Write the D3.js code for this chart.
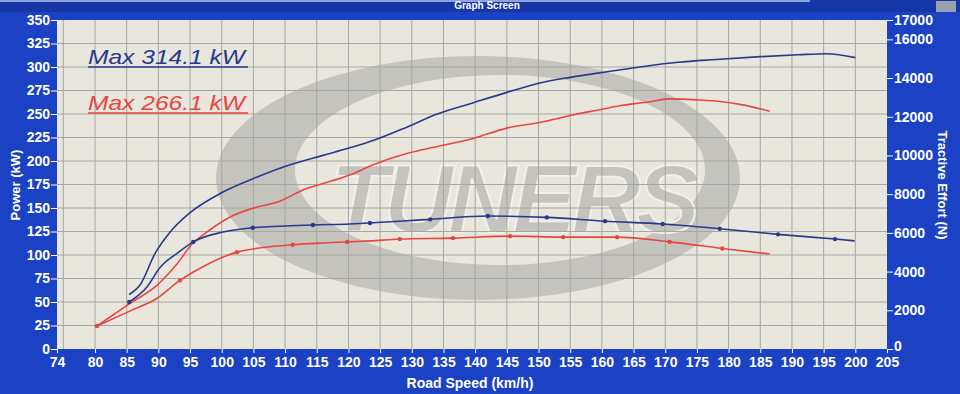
<!DOCTYPE html>
<html>
<head>
<meta charset="utf-8">
<script src="https://cdn.jsdelivr.net/npm/d3@7"></script>
<style>
  body { margin: 0; background: #1b41c4; }
  svg { display: block; font-family: "Liberation Sans", Arial, sans-serif; }
</style>
</head>
<body>
<div id="plot"></div>
<script>
// tick labels
var speedTicks = [74, 80, 85, 90, 95, 100, 105, 110, 115, 120, 125, 130, 135, 140, 145, 150, 155, 160, 165, 170, 175, 180, 185, 190, 195, 200, 205];
var speedGrid = [75, 80, 85, 90, 95, 100, 105, 110, 115, 120, 125, 130, 135, 140, 145, 150, 155, 160, 165, 170, 175, 180, 185, 190, 195, 200];
var powerTicks = [0, 25, 50, 75, 100, 125, 150, 175, 200, 225, 250, 275, 300, 325, 350];
var effortTicks = [0, 2000, 4000, 6000, 8000, 10000, 12000, 14000, 16000, 17000];

// power curves [speed km/h, kW]
var bluePower = [[85.4, 58], [87.1, 68], [89.5, 102], [91.8, 124], [95, 145], [100.2, 167], [105.6, 183], [110.8, 196], [116, 206], [120.2, 214], [124, 222], [129.2, 236], [134, 250], [139.7, 262], [145, 273], [150.2, 283], [155, 289], [160.8, 295], [166, 300], [172, 305], [178, 308], [185, 311], [191, 313], [195.5, 314.1], [200, 310]];
var redPower = [[80.3, 24.5], [85.4, 48], [89.8, 68], [93, 91], [95.5, 113], [96.6, 119], [101.8, 142], [105.6, 151], [108.7, 156], [113.5, 171], [116, 176], [120.2, 185], [123.9, 196], [129.2, 208], [134.4, 216], [139.7, 224], [145, 235], [150.2, 241], [155.4, 249], [160, 255], [163, 259], [167.6, 263], [170.5, 266.1], [175, 265], [179, 263], [182, 260], [186.5, 253]];

// tractive effort curves [speed km/h, N, marker]
var blueEffort = [[85.4, 2430, 1], [88.2, 3205, 0], [90.3, 4225, 0], [93, 4955, 0], [95.5, 5535, 1], [100.2, 6045, 0], [104.9, 6265, 1], [110.8, 6365, 0], [114.4, 6410, 1], [120.2, 6460, 0], [123.4, 6510, 1], [132.9, 6700, 1], [142, 6870, 1], [151.3, 6800, 1], [160.5, 6605, 1], [169.6, 6460, 1], [178.6, 6215, 1], [187.8, 5925, 1], [196.8, 5680, 1], [199.9, 5585, 0]];
var redEffort = [[80.3, 1190, 1], [85.4, 1945, 0], [89.8, 2620, 0], [93.4, 3545, 1], [96.6, 4175, 0], [102.4, 5005, 1], [106.5, 5245, 0], [111.2, 5390, 1], [116, 5480, 0], [119.8, 5535, 1], [123.4, 5585, 0], [128.1, 5680, 1], [136.5, 5730, 1], [145.5, 5830, 1], [153.9, 5780, 1], [162.4, 5780, 1], [170.7, 5535, 1], [179, 5195, 1], [186.5, 4905, 0]];

var maxLabels = ["Max 314.1 kW", "Max 266.1 kW"];

var blue = "#27398f", red = "#e8453f";

var svg = d3.select("div#plot")
            .append("svg")
            .attr("width", "960")
            .attr("height", "394");

var margin = {top: 20, right: 73, bottom: 45, left: 57};
var width = 960 - margin.left - margin.right;
var height = 394 - margin.top - margin.bottom;

var xScale = d3.scaleLinear().domain([74, 205]).range([0, width]);
var yScale = d3.scaleLinear().domain([0, 350]).range([height, 0]);
var y2Scale = d3.scaleLinear().domain([0, 17000]).range([height, 0]);

// window background + title bar
svg.append("rect").attr("width", 960).attr("height", 394).attr("fill", "#1b41c4");
svg.append("rect").attr("width", 960).attr("height", 12).attr("fill", "#1636a6");
svg.append("rect").attr("width", 810).attr("height", 2).attr("fill", "#8fa3dd");
svg.append("rect").attr("x", 936).attr("y", 1).attr("width", 20).attr("height", 11).attr("fill", "#9aa0ad");
svg.append("text")
  .attr("x", 487).attr("y", 9)
  .attr("text-anchor", "middle")
  .attr("fill", "white")
  .style("font-size", "10px").style("font-weight", "bold")
  .text("Graph Screen");

var g = svg.append("g").attr("transform", `translate(${margin.left}, ${margin.top})`);

g.append("rect")
  .attr("width", width).attr("height", height)
  .attr("fill", "#e9e7dd");

// watermark
var wm = g.append("g").attr("transform", `translate(${-margin.left}, ${-margin.top})`).style("opacity", 0.4);
wm.append("path")
  .attr("fill-rule", "evenodd")
  .attr("fill", "#8f8f8f")
  .attr("d", "M 216 178 A 262 122 0 1 0 740 178 A 262 122 0 1 0 216 178 Z M 295 170 A 205 95 0 1 0 705 170 A 205 95 0 1 0 295 170 Z");
wm.append("text")
  .attr("x", 515).attr("y", 232)
  .attr("text-anchor", "middle")
  .attr("fill", "#8f8f8f")
  .attr("stroke", "#ffffff").attr("stroke-width", 2)
  .attr("textLength", 370)
  .style("font-size", "96px").style("font-weight", "bold").style("font-style", "italic")
  .text("TUNERS");

// grid
g.append("g").selectAll("line").data(speedGrid).join("line")
  .attr("x1", d => xScale(d)).attr("x2", d => xScale(d))
  .attr("y1", 0).attr("y2", height)
  .attr("stroke", "#a6a6a2").attr("stroke-width", 1);
g.append("g").selectAll("line").data(powerTicks.slice(1, -1)).join("line")
  .attr("x1", 0).attr("x2", width)
  .attr("y1", d => yScale(d)).attr("y2", d => yScale(d))
  .attr("stroke", "#a6a6a2").attr("stroke-width", 1);

// axes
function styleAxis(sel) {
  sel.select(".domain").remove();
  sel.selectAll(".tick line").attr("stroke", "white");
  sel.selectAll(".tick text").attr("fill", "white")
    .style("font-size", "14px").style("font-weight", "bold")
    .style("font-family", "Liberation Sans, Arial, sans-serif");
}
g.append("g")
  .attr("transform", `translate(0, ${height})`)
  .call(d3.axisBottom(xScale).tickValues(speedTicks).tickFormat(d3.format("d")).tickSize(4).tickPadding(4))
  .call(styleAxis);
g.append("g")
  .call(d3.axisLeft(yScale).tickValues(powerTicks).tickSize(6).tickPadding(1))
  .call(styleAxis);
g.append("g")
  .attr("transform", `translate(${width}, 0)`)
  .call(d3.axisRight(y2Scale).tickValues(effortTicks).tickFormat(d3.format("d")).tickSize(6).tickPadding(1))
  .call(styleAxis)
  .call(a => a.selectAll(".tick text").filter(d => d === 0).attr("dy", "0.1em"));

// axis titles
svg.append("text")
  .attr("text-anchor", "middle")
  .attr("transform", "translate(20, 185) rotate(-90)")
  .attr("fill", "white")
  .style("font-size", "13px").style("font-weight", "bold")
  .text("Power (kW)");
svg.append("text")
  .attr("text-anchor", "middle")
  .attr("transform", "translate(938, 185) rotate(90)")
  .attr("fill", "white")
  .style("font-size", "13px").style("font-weight", "bold")
  .text("Tractive Effort (N)");
svg.append("text")
  .attr("text-anchor", "middle")
  .attr("x", 470).attr("y", 388)
  .attr("fill", "white")
  .style("font-size", "14px").style("font-weight", "bold")
  .text("Road Speed (km/h)");

// lines
var powerLine = d3.line().curve(d3.curveMonotoneX)
  .x(d => xScale(d[0])).y(d => yScale(d[1]));
var effortLine = d3.line().curve(d3.curveMonotoneX)
  .x(d => xScale(d[0])).y(d => y2Scale(d[1]));

[[bluePower, blue], [redPower, red]].forEach(function(s) {
  g.append("path").datum(s[0])
    .attr("fill", "none").attr("stroke", s[1]).attr("stroke-width", 1.6)
    .attr("d", powerLine);
});
[[blueEffort, blue], [redEffort, red]].forEach(function(s) {
  g.append("path").datum(s[0])
    .attr("fill", "none").attr("stroke", s[1]).attr("stroke-width", 1.6)
    .attr("d", effortLine);
  g.append("g").selectAll("circle").data(s[0].filter(d => d[2])).join("circle")
    .attr("cx", d => xScale(d[0])).attr("cy", d => y2Scale(d[1]))
    .attr("r", 2.2).attr("fill", s[1]);
});

// max labels
[[maxLabels[0], blue, 64], [maxLabels[1], red, 110]].forEach(function(s) {
  svg.append("text")
    .attr("x", 88).attr("y", s[2])
    .attr("fill", s[1])
    .style("font-size", "21px").style("font-style", "italic")
    .attr("textLength", 157).attr("lengthAdjust", "spacingAndGlyphs")
    .text(s[0]);
  svg.append("line")
    .attr("x1", 88).attr("x2", 248)
    .attr("y1", s[2] + 3).attr("y2", s[2] + 3)
    .attr("stroke", s[1]).attr("stroke-width", 1.5);
});
</script>
</body>
</html>
